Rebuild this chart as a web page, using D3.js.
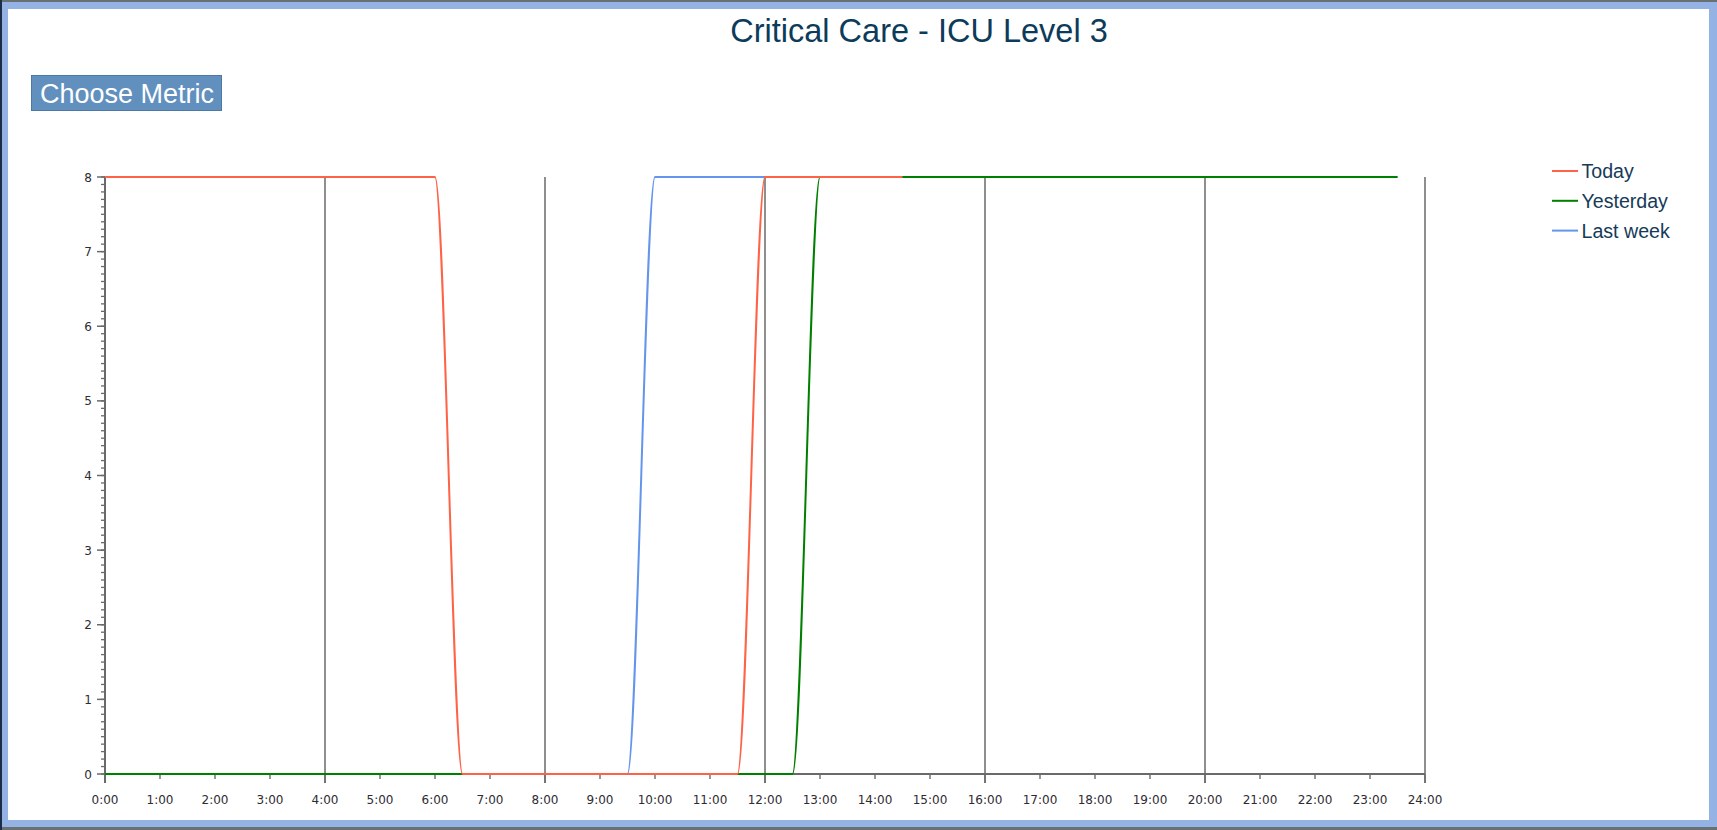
<!DOCTYPE html>
<html>
<head>
<meta charset="utf-8">
<script src="https://cdn.jsdelivr.net/npm/d3@7"></script>
<style>
  html, body { margin: 0; padding: 0; background: #687073; overflow: hidden; }
  svg { display: block; }
</style>
</head>
<body>
<svg id="chart" width="1717" height="830"></svg>
<script>
// ---- Data (hours of day, half-hour samples) ----
const title = "Critical Care - ICU Level 3";
const seriesNames = ["Today", "Yesterday", "Last week"];
const seriesColors = ["#ff6347", "#008000", "#6495ed"];

const times = [0, 0.5, 1, 1.5, 2, 2.5, 3, 3.5, 4, 4.5, 5, 5.5, 6, 6.5, 7, 7.5, 8, 8.5, 9, 9.5,
  10, 10.5, 11, 11.5, 12, 12.5, 13, 13.5, 14, 14.5, 15, 15.5, 16, 16.5, 17, 17.5, 18, 18.5, 19, 19.5,
  20, 20.5, 21, 21.5, 22, 22.5, 23, 23.5];

// Today: data only up to 14:30
const todayValues = [8, 8, 8, 8, 8, 8, 8, 8, 8, 8, 8, 8, 8, 0, 0, 0, 0, 0, 0, 0,
  0, 0, 0, 0, 8, 8, 8, 8, 8, 8];
const yesterdayValues = [0, 0, 0, 0, 0, 0, 0, 0, 0, 0, 0, 0, 0, 0, 0, 0, 0, 0, 0, 0,
  0, 0, 0, 0, 0, 0, 8, 8, 8, 8, 8, 8, 8, 8, 8, 8, 8, 8, 8, 8,
  8, 8, 8, 8, 8, 8, 8, 8];
const lastWeekValues = [0, 0, 0, 0, 0, 0, 0, 0, 0, 0, 0, 0, 0, 0, 0, 0, 0, 0, 0, 0,
  8, 8, 8, 8, 8, 8, 8, 8, 8, 8, 8, 8, 8, 8, 8, 8, 8, 8, 8, 8,
  8, 8, 8, 8, 8, 8, 8, 8];

const xTickHours = [0,1,2,3,4,5,6,7,8,9,10,11,12,13,14,15,16,17,18,19,20,21,22,23,24];
const xTickLabels = ["0:00","1:00","2:00","3:00","4:00","5:00","6:00","7:00","8:00","9:00","10:00","11:00",
  "12:00","13:00","14:00","15:00","16:00","17:00","18:00","19:00","20:00","21:00","22:00","23:00","24:00"];
const gridHours = [4, 8, 12, 16, 20, 24];
const yTickValues = [0,1,2,3,4,5,6,7,8];

// ---- Layout ----
const svg = d3.select("#chart");
const W = 1717, H = 830;

// page frame
svg.append("rect").attr("x", 0).attr("y", 0).attr("width", W).attr("height", H).attr("fill", "#687073");
svg.append("rect").attr("x", 0).attr("y", 0).attr("width", 2).attr("height", H).attr("fill", "#1b2d47");
svg.append("rect").attr("x", 2).attr("y", 2).attr("width", W - 2).attr("height", 825).attr("fill", "#94b3e4");
svg.append("rect").attr("x", 8).attr("y", 9).attr("width", 1701).attr("height", 811).attr("fill", "#ffffff");

// title
svg.append("text")
  .attr("x", 919).attr("y", 42)
  .attr("text-anchor", "middle")
  .attr("font-family", "'Liberation Sans', Arial, sans-serif")
  .attr("font-size", 32.5)
  .attr("fill", "#0d3b5a")
  .text(title);

// button
svg.append("rect")
  .attr("x", 31.5).attr("y", 75.5).attr("width", 190).attr("height", 35)
  .attr("fill", "#6190bf").attr("stroke", "#4d79a6").attr("stroke-width", 1);
svg.append("text")
  .attr("x", 40).attr("y", 102.5)
  .attr("font-family", "'Liberation Sans', Arial, sans-serif")
  .attr("font-size", 27)
  .attr("fill", "#ffffff")
  .text("Choose Metric");

// scales
const x = d3.scaleLinear().domain([0, 24]).range([105, 1425]);
const y = d3.scaleLinear().domain([0, 8]).range([774, 177]);

const axisColor = "#6a6a6a";
const labelFont = "'DejaVu Sans', Verdana, sans-serif";

// vertical grid lines
svg.append("g").selectAll("line").data(gridHours).join("line")
  .attr("x1", d => x(d)).attr("x2", d => x(d))
  .attr("y1", y(8)).attr("y2", y(0) + 9)
  .attr("stroke", "#5f5f5f").attr("stroke-width", 1.4);

// x axis
const xAxis = svg.append("g").attr("transform", `translate(0,${y(0)})`);
xAxis.append("line").attr("x1", x(0)).attr("x2", x(24)).attr("y1", 0).attr("y2", 0)
  .attr("stroke", axisColor).attr("stroke-width", 2);
xAxis.selectAll("line.tick").data(xTickHours).join("line").attr("class", "tick")
  .attr("x1", d => x(d)).attr("x2", d => x(d))
  .attr("y1", 0).attr("y2", d => (d % 4 === 0 ? 9 : 5))
  .attr("stroke", axisColor).attr("stroke-width", 1.4);
xAxis.selectAll("text").data(xTickHours).join("text")
  .attr("x", d => x(d)).attr("y", 30)
  .attr("text-anchor", "middle")
  .attr("font-family", labelFont).attr("font-size", 12)
  .attr("fill", "#2e2b33")
  .text((d, i) => xTickLabels[i]);

// y axis
const yAxis = svg.append("g");
const minorTicks = y.ticks(80);
yAxis.selectAll("line.minor").data(minorTicks).join("line").attr("class", "minor")
  .attr("x1", x(0) - 4).attr("x2", x(0))
  .attr("y1", d => y(d)).attr("y2", d => y(d))
  .attr("stroke", axisColor).attr("stroke-width", 1.3);
yAxis.selectAll("line.major").data(yTickValues).join("line").attr("class", "major")
  .attr("x1", x(0) - 8).attr("x2", x(0))
  .attr("y1", d => y(d)).attr("y2", d => y(d))
  .attr("stroke", axisColor).attr("stroke-width", 1.5);
yAxis.append("line").attr("x1", x(0)).attr("x2", x(0)).attr("y1", y(8)).attr("y2", y(0) + 9)
  .attr("stroke", axisColor).attr("stroke-width", 2);
yAxis.selectAll("text").data(yTickValues).join("text")
  .attr("x", x(0) - 13).attr("y", d => y(d) + 4.5)
  .attr("text-anchor", "end")
  .attr("font-family", labelFont).attr("font-size", 12)
  .attr("fill", "#2e2b33")
  .text(d => d);

// lines
const line = d3.line()
  .x(d => x(d[0]))
  .y(d => y(d[1]))
  .curve(d3.curveMonotoneX);

const seriesData = [
  { name: "Last week", color: seriesColors[2], values: lastWeekValues },
  { name: "Yesterday", color: seriesColors[1], values: yesterdayValues },
  { name: "Today", color: seriesColors[0], values: todayValues }
];
svg.append("g").selectAll("path").data(seriesData).join("path")
  .attr("d", s => line(s.values.map((v, i) => [times[i], v])))
  .attr("fill", "none")
  .attr("stroke", s => s.color)
  .attr("stroke-width", 2);

// legend
const legend = svg.append("g");
seriesNames.forEach((name, i) => {
  const ly = 171 + i * 29.8;
  legend.append("line").attr("x1", 1552).attr("x2", 1578).attr("y1", ly).attr("y2", ly)
    .attr("stroke", seriesColors[i]).attr("stroke-width", 2);
  legend.append("text").attr("x", 1581.5).attr("y", ly + 7)
    .attr("font-family", "'Liberation Sans', Arial, sans-serif")
    .attr("font-size", 19.6)
    .attr("fill", "#163a58")
    .text(name);
});
</script>
</body>
</html>
